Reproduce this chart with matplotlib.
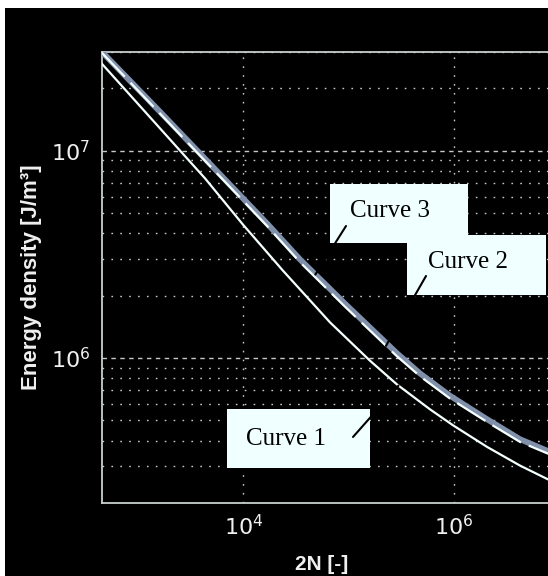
import numpy as np
import matplotlib
matplotlib.use("Agg")
import matplotlib.pyplot as plt
from matplotlib.patches import Rectangle
from matplotlib.ticker import LogLocator, FixedLocator

# ---- data ----
n_curve1 = [450, 2547, 4305, 9890, 23700, 66400, 159200, 287300, 591400, 979000, 2.06e6, 4.24e6, 7.82e6, 1e7]
w_curve1 = [2.63e7, 9.89e6, 7.36e6, 4.40e6, 2.64e6, 1.486e6, 9.71e5, 7.46e5, 5.66e5, 4.74e5, 3.73e5, 3.03e5, 2.60e5, 2.45e5]

n_curve3 = [450, 1611, 6966, 16710, 34420, 92000, 287300, 475400, 916000, 2.06e6, 4.24e6, 7.82e6, 1e7]
w_curve3 = [3.0e7, 1.54e7, 7.09e6, 4.46e6, 2.99e6, 1.83e6, 1.054e6, 8.43e5, 6.58e5, 5.07e5, 4.06e5, 3.56e5, 3.40e5]

n_curve2 = [450, 1611, 6966, 16710, 34420, 92000, 287300, 475400, 916000, 2.06e6, 4.24e6, 7.82e6, 1e7]
w_curve2 = [2.97e7, 1.51e7, 6.92e6, 4.34e6, 2.90e6, 1.77e6, 1.02e6, 8.17e5, 6.38e5, 4.92e5, 3.94e5, 3.46e5, 3.30e5]

x_ticks = [1e4, 1e6]
y_ticks = [1e6, 1e7]
x_limits = [10**2.653, 10**7.0]
y_limits = [2e5, 3e7]

labels = ["Curve 1", "Curve 2", "Curve 3"]
xlabel = "2N [-]"
ylabel = "Energy density [J/m³]"

# ---- styling ----
plt.rcParams['mathtext.fontset'] = 'custom'
plt.rcParams['mathtext.rm'] = 'Liberation Sans'
plt.rcParams['mathtext.it'] = 'Liberation Sans'
plt.rcParams['mathtext.bf'] = 'Liberation Sans:bold'
plt.rcParams['lines.scale_dashes'] = False

W, H, DPI = 548, 576, 100
fig = plt.figure(figsize=(W / DPI, H / DPI), dpi=DPI, facecolor='black')
# white strips at the top and left edges of the picture
fig.patches.append(Rectangle((0, 1 - 8 / H), 1, 8 / H, transform=fig.transFigure,
                             facecolor='white', edgecolor='none', zorder=-5))
fig.patches.append(Rectangle((0, 0), 5 / W, 1, transform=fig.transFigure,
                             facecolor='white', edgecolor='none', zorder=-5))

AX_L, AX_T, AX_B = 101.7, 51.7, 503.0
DEC_X = 105.25
ax_w_px = (np.log10(x_limits[1]) - np.log10(x_limits[0])) * DEC_X
ax_h_px = AX_B - AX_T
ax = fig.add_axes([AX_L / W, (H - AX_B) / H, ax_w_px / W, ax_h_px / H])
ax.set_facecolor('black')
ax.set_xscale('log')
ax.set_yscale('log')

ax.set_xticks(x_ticks)
ax.set_xticklabels([r'$\mathregular{10^{%d}}$' % int(np.log10(v)) for v in x_ticks])
ax.set_yticks(y_ticks)
ax.set_yticklabels([r'$\mathregular{10^{%d}}$' % int(np.log10(v)) for v in y_ticks])
ax.xaxis.set_minor_locator(FixedLocator([]))
ax.yaxis.set_minor_locator(LogLocator(base=10, subs=np.arange(2, 10), numticks=20))
ax.yaxis.set_minor_formatter(plt.NullFormatter())
ax.set_xlim(x_limits)
ax.set_ylim(y_limits)

grid_col = '#c8c8c8'
ax.grid(True, which='major', axis='y', color=grid_col, linewidth=1.0, dashes=(3.2, 3.2))
ax.grid(True, which='minor', axis='y', color=grid_col, linewidth=1.0, dashes=(1.2, 5.2))
ax.grid(True, which='major', axis='x', color=grid_col, linewidth=1.0, dashes=(1.2, 5.2))
ax.set_axisbelow(True)

ax.tick_params(which='both', length=0, colors='white', labelsize=16)
ax.tick_params(axis='x', pad=8)
ax.tick_params(axis='y', pad=8.4)
for lab in ax.get_xticklabels() + ax.get_yticklabels():
    lab.set_color('#f0f0f0')

for side in ['left', 'top', 'bottom']:
    ax.spines[side].set_color('#c8d0d0')
    ax.spines[side].set_linewidth(1.3)
ax.spines['right'].set_visible(False)

# curves
ax.plot(n_curve1, w_curve1, color='#f4ffff', linewidth=1.6, zorder=3)
ax.plot(n_curve3, w_curve3, color='#8090aa', linewidth=4.2, zorder=3, solid_capstyle='butt')
ax.plot(n_curve2, w_curve2, color='#f4ffff', linewidth=1.6, dashes=(24, 6), zorder=4)

# helpers: reference pixel -> axes fraction (for annotation layout only)
def fx(px):
    return (px - AX_L) / ax_w_px

def fy(py):
    return (AX_B - py) / ax_h_px

# labels
ax.set_xlabel(xlabel, color='#f0f0f0', fontsize=15, fontweight='bold', family='Liberation Sans')
ax.xaxis.set_label_coords(fx(322), fy(555))
ax.set_ylabel(ylabel, color='#f0f0f0', fontsize=16, fontweight='bold', family='Liberation Sans')
ax.yaxis.set_label_coords(fx(42), 0.5)

# annotation boxes
box_col = '#f0ffff'
for (x0, x1, y0, y1) in [(330, 468, 184, 243), (407, 546, 235, 295), (227, 370, 409, 468)]:
    ax.add_patch(Rectangle((fx(x0), fy(y1)), fx(x1) - fx(x0), fy(y0) - fy(y1),
                           transform=ax.transAxes, facecolor=box_col, edgecolor='none',
                           zorder=5, clip_on=False))

text_kw = dict(transform=ax.transAxes, fontsize=18, family='Liberation Serif',
               color='black', ha='left', va='baseline', zorder=7)
ax.text(fx(350), fy(217), labels[2], **text_kw)
ax.text(fx(428), fy(268), labels[1], **text_kw)
ax.text(fx(246), fy(445), labels[0], **text_kw)

def on_curve(n_target, ns, ws):
    return 10 ** np.interp(np.log10(n_target), np.log10(ns), np.log10(ws))

lead_kw = dict(arrowstyle='-', color='black', lw=1.5, shrinkA=0, shrinkB=0)
n3 = 10 ** 4.683
ax.annotate('', xy=(n3, on_curve(n3, n_curve3, w_curve3)), xycoords='data',
            xytext=(fx(346), fy(226)), textcoords='axes fraction', arrowprops=lead_kw, zorder=8)
n2 = 10 ** 5.354
ax.annotate('', xy=(n2, on_curve(n2, n_curve2, w_curve2)), xycoords='data',
            xytext=(fx(426), fy(276)), textcoords='axes fraction', arrowprops=lead_kw, zorder=8)
n1 = 10 ** 5.473
ax.annotate('', xy=(n1, on_curve(n1, n_curve1, w_curve1)), xycoords='data',
            xytext=(fx(353), fy(437)), textcoords='axes fraction', arrowprops=lead_kw, zorder=8)

fig.savefig('out.png', dpi=DPI, facecolor=fig.get_facecolor())
